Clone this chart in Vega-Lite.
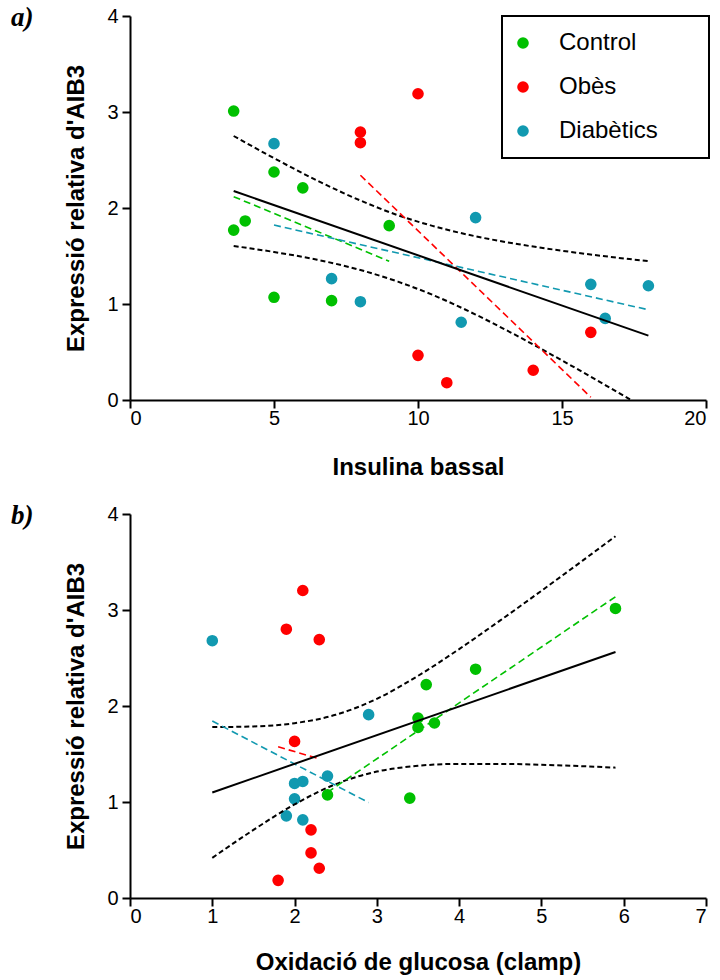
{
  "$schema": "https://vega.github.io/schema/vega-lite/v6.json",
  "background": "white",
  "padding": {"left": 10, "top": 4, "right": 5, "bottom": 5},
  "spacing": 23,
  "config": {
    "font": "Liberation Sans",
    "view": {"stroke": null},
    "legend": {"strokeWidth": 2},
    "axis": {
      "grid": false,
      "domainColor": "black",
      "domainWidth": 2,
      "tickColor": "black",
      "tickWidth": 2,
      "tickSize": 8,
      "labelFontSize": 20,
      "labelColor": "black",
      "labelFont": "Liberation Sans",
      "titleFont": "Liberation Sans",
      "titleFontSize": 24,
      "titleFontWeight": "bold",
      "titleColor": "black"
    },
    "title": {
      "font": "Liberation Serif",
      "fontSize": 27,
      "fontStyle": "italic",
      "fontWeight": "bold",
      "color": "black"
    }
  },
  "datasets": {
    "pa": [
      {"g": "Control", "x": 3.6, "y": 3.01},
      {"g": "Control", "x": 5, "y": 2.375},
      {"g": "Control", "x": 6, "y": 2.21},
      {"g": "Control", "x": 4, "y": 1.865},
      {"g": "Control", "x": 3.6, "y": 1.77},
      {"g": "Control", "x": 9, "y": 1.816},
      {"g": "Control", "x": 5, "y": 1.07},
      {"g": "Control", "x": 7, "y": 1.035},
      {"g": "Obès", "x": 10, "y": 3.19},
      {"g": "Obès", "x": 8, "y": 2.79},
      {"g": "Obès", "x": 8, "y": 2.68},
      {"g": "Obès", "x": 10, "y": 0.465},
      {"g": "Obès", "x": 11, "y": 0.18},
      {"g": "Obès", "x": 14, "y": 0.31},
      {"g": "Obès", "x": 16, "y": 0.705},
      {"g": "Diabètics", "x": 5, "y": 2.67},
      {"g": "Diabètics", "x": 12, "y": 1.9},
      {"g": "Diabètics", "x": 7, "y": 1.264},
      {"g": "Diabètics", "x": 8, "y": 1.024},
      {"g": "Diabètics", "x": 11.5, "y": 0.81},
      {"g": "Diabètics", "x": 16, "y": 1.205},
      {"g": "Diabètics", "x": 18, "y": 1.19},
      {"g": "Diabètics", "x": 16.5, "y": 0.85}
    ],
    "la": [
      {"g": "Control", "x": 3.6, "y": 2.118},
      {"g": "Control", "x": 9, "y": 1.445},
      {"g": "Obès", "x": 8, "y": 2.341},
      {"g": "Obès", "x": 16, "y": 0.029},
      {"g": "Diabètics", "x": 5, "y": 1.822},
      {"g": "Diabètics", "x": 18, "y": 0.94}
    ],
    "fa": [
      {"x": 3.6, "y": 2.177},
      {"x": 18, "y": 0.67}
    ],
    "ca": [
      {"b": "upper", "x": 3.6, "y": 2.75},
      {"b": "upper", "x": 5, "y": 2.519},
      {"b": "upper", "x": 6.5, "y": 2.286},
      {"b": "upper", "x": 8, "y": 2.078},
      {"b": "upper", "x": 9.3, "y": 1.925},
      {"b": "upper", "x": 10.5, "y": 1.814},
      {"b": "upper", "x": 12, "y": 1.705},
      {"b": "upper", "x": 13.5, "y": 1.622},
      {"b": "upper", "x": 15, "y": 1.555},
      {"b": "upper", "x": 16.5, "y": 1.497},
      {"b": "upper", "x": 18, "y": 1.446},
      {"b": "lower", "x": 3.6, "y": 1.604},
      {"b": "lower", "x": 5, "y": 1.542},
      {"b": "lower", "x": 6.5, "y": 1.461},
      {"b": "lower", "x": 8, "y": 1.354},
      {"b": "lower", "x": 9.3, "y": 1.233},
      {"b": "lower", "x": 10.5, "y": 1.096},
      {"b": "lower", "x": 12, "y": 0.89},
      {"b": "lower", "x": 13.5, "y": 0.659},
      {"b": "lower", "x": 15, "y": 0.412},
      {"b": "lower", "x": 16.5, "y": 0.156},
      {"b": "lower", "x": 18, "y": -0.106}
    ],
    "pb": [
      {"g": "Control", "x": 5.9, "y": 3.016},
      {"g": "Control", "x": 4.2, "y": 2.383},
      {"g": "Control", "x": 3.6, "y": 2.223},
      {"g": "Control", "x": 3.5, "y": 1.875},
      {"g": "Control", "x": 3.7, "y": 1.823},
      {"g": "Control", "x": 3.5, "y": 1.777},
      {"g": "Control", "x": 2.4, "y": 1.074},
      {"g": "Control", "x": 3.4, "y": 1.04},
      {"g": "Obès", "x": 2.1, "y": 3.203},
      {"g": "Obès", "x": 1.9, "y": 2.8},
      {"g": "Obès", "x": 2.3, "y": 2.692},
      {"g": "Obès", "x": 2.0, "y": 1.631},
      {"g": "Obès", "x": 2.2, "y": 0.71},
      {"g": "Obès", "x": 2.2, "y": 0.47},
      {"g": "Obès", "x": 2.3, "y": 0.31},
      {"g": "Obès", "x": 1.8, "y": 0.184},
      {"g": "Diabètics", "x": 1.0, "y": 2.68},
      {"g": "Diabètics", "x": 2.9, "y": 1.91},
      {"g": "Diabètics", "x": 2.4, "y": 1.27},
      {"g": "Diabètics", "x": 2.0, "y": 1.193},
      {"g": "Diabètics", "x": 2.1, "y": 1.214},
      {"g": "Diabètics", "x": 2.0, "y": 1.033},
      {"g": "Diabètics", "x": 1.9, "y": 0.856},
      {"g": "Diabètics", "x": 2.1, "y": 0.814}
    ],
    "lb": [
      {"g": "Control", "x": 2.4, "y": 1.101},
      {"g": "Control", "x": 5.9, "y": 3.138},
      {"g": "Obès", "x": 1.8, "y": 1.575},
      {"g": "Obès", "x": 2.3, "y": 1.45},
      {"g": "Diabètics", "x": 1.0, "y": 1.843},
      {"g": "Diabètics", "x": 2.9, "y": 0.994}
    ],
    "fb": [
      {"x": 1.0, "y": 1.099},
      {"x": 5.9, "y": 2.563}
    ],
    "cb": [
      {"b": "upper", "x": 1.0, "y": 1.78},
      {"b": "upper", "x": 1.5, "y": 1.787},
      {"b": "upper", "x": 2.0, "y": 1.821},
      {"b": "upper", "x": 2.5, "y": 1.908},
      {"b": "upper", "x": 3.0, "y": 2.075},
      {"b": "upper", "x": 3.5, "y": 2.314},
      {"b": "upper", "x": 4.0, "y": 2.593},
      {"b": "upper", "x": 4.5, "y": 2.892},
      {"b": "upper", "x": 5.0, "y": 3.2},
      {"b": "upper", "x": 5.5, "y": 3.514},
      {"b": "upper", "x": 5.9, "y": 3.768},
      {"b": "lower", "x": 1.0, "y": 0.418},
      {"b": "lower", "x": 1.5, "y": 0.709},
      {"b": "lower", "x": 2.0, "y": 0.975},
      {"b": "lower", "x": 2.5, "y": 1.186},
      {"b": "lower", "x": 3.0, "y": 1.317},
      {"b": "lower", "x": 3.5, "y": 1.377},
      {"b": "lower", "x": 4.0, "y": 1.397},
      {"b": "lower", "x": 4.5, "y": 1.397},
      {"b": "lower", "x": 5.0, "y": 1.388},
      {"b": "lower", "x": 5.5, "y": 1.373},
      {"b": "lower", "x": 5.9, "y": 1.358}
    ]
  },
  "resolve": {"scale": {"color": "independent", "stroke": "independent"}, "legend": {"color": "independent", "stroke": "independent"}},
  "vconcat": [
    {
      "width": 576,
      "height": 384,
      "title": {"text": "a)", "anchor": "start", "frame": "bounds", "orient": "top", "offset": -26, "dx": -54},
      "layer": [
        {
          "data": {"name": "pa"},
          "mark": {"type": "circle", "size": 135, "opacity": 1},
          "encoding": {
            "x": {"field": "x", "type": "quantitative", "scale": {"domain": [0, 20], "nice": false}, "axis": {"values": [0, 5, 10, 15, 20], "format": "d", "title": "Insulina bassal", "titlePadding": 27, "labelPadding": 0}},
            "y": {"field": "y", "type": "quantitative", "scale": {"domain": [0, 4], "nice": false}, "axis": {"values": [0, 1, 2, 3, 4], "format": "d", "title": "Expressió relativa d'AIB3", "titlePadding": 18, "labelPadding": 4}},
            "color": {
              "field": "g", "type": "nominal",
              "scale": {"domain": ["Control", "Obès", "Diabètics"], "range": ["#00c000", "#ff0000", "#1199b0"]},
              "legend": {
                "title": null,
                "orient": "none",
                "legendX": 372,
                "legendY": 0,
                "strokeColor": "black",
                "fillColor": "white",
                "padding": 15,
                "symbolType": "circle",
                "symbolSize": 135,
                "symbolOffset": -6,
                "symbolStrokeWidth": 0,
                "symbolOpacity": 1,
                "labelFontSize": 24,
                "labelColor": "black",
                "labelFont": "Liberation Sans",
                "labelOffset": 24,
                "labelLimit": 400,
                "rowPadding": 20,
                "labelExpr": "datum.label + '\u2800\u2800'"
              }
            }
          }
        },
        {
          "data": {"name": "ca"},
          "mark": {"type": "line", "color": "black", "strokeWidth": 2, "strokeDash": [5, 3], "interpolate": "monotone", "clip": true},
          "encoding": {
            "x": {"field": "x", "type": "quantitative"},
            "y": {"field": "y", "type": "quantitative"},
            "detail": {"field": "b"}
          }
        },
        {
          "data": {"name": "la"},
          "mark": {"type": "line", "strokeWidth": 1.6, "strokeDash": [7, 4]},
          "encoding": {
            "x": {"field": "x", "type": "quantitative"},
            "y": {"field": "y", "type": "quantitative"},
            "stroke": {"field": "g", "type": "nominal", "scale": {"domain": ["Control", "Obès", "Diabètics"], "range": ["#00c000", "#ff0000", "#1199b0"]}, "legend": null}
          }
        },
        {
          "data": {"name": "fa"},
          "mark": {"type": "line", "color": "black", "strokeWidth": 2},
          "encoding": {
            "x": {"field": "x", "type": "quantitative"},
            "y": {"field": "y", "type": "quantitative"}
          }
        }
      ]
    },
    {
      "width": 576,
      "height": 384,
      "title": {"text": "b)", "anchor": "start", "frame": "bounds", "orient": "top", "offset": -26, "dx": -54},
      "layer": [
        {
          "data": {"name": "pb"},
          "mark": {"type": "circle", "size": 135, "opacity": 1},
          "encoding": {
            "x": {"field": "x", "type": "quantitative", "scale": {"domain": [0, 7], "nice": false}, "axis": {"values": [0, 1, 2, 3, 4, 5, 6, 7], "format": "d", "title": "Oxidació de glucosa (clamp)", "titlePadding": 24, "labelPadding": 0}},
            "y": {"field": "y", "type": "quantitative", "scale": {"domain": [0, 4], "nice": false}, "axis": {"values": [0, 1, 2, 3, 4], "format": "d", "title": "Expressió relativa d'AIB3", "titlePadding": 18, "labelPadding": 4}},
            "color": {
              "field": "g", "type": "nominal",
              "scale": {"domain": ["Control", "Obès", "Diabètics"], "range": ["#00c000", "#ff0000", "#1199b0"]},
              "legend": null
            }
          }
        },
        {
          "data": {"name": "cb"},
          "mark": {"type": "line", "color": "black", "strokeWidth": 2, "strokeDash": [5, 3], "interpolate": "monotone", "clip": true},
          "encoding": {
            "x": {"field": "x", "type": "quantitative"},
            "y": {"field": "y", "type": "quantitative"},
            "detail": {"field": "b"}
          }
        },
        {
          "data": {"name": "lb"},
          "mark": {"type": "line", "strokeWidth": 1.6, "strokeDash": [7, 4]},
          "encoding": {
            "x": {"field": "x", "type": "quantitative"},
            "y": {"field": "y", "type": "quantitative"},
            "stroke": {"field": "g", "type": "nominal", "scale": {"domain": ["Control", "Obès", "Diabètics"], "range": ["#00c000", "#ff0000", "#1199b0"]}, "legend": null}
          }
        },
        {
          "data": {"name": "fb"},
          "mark": {"type": "line", "color": "black", "strokeWidth": 2},
          "encoding": {
            "x": {"field": "x", "type": "quantitative"},
            "y": {"field": "y", "type": "quantitative"}
          }
        }
      ]
    }
  ]
}
